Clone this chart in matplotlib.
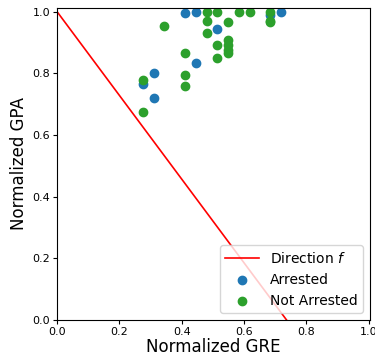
import numpy as np
import matplotlib
matplotlib.use("Agg")
import matplotlib.pyplot as plt

# decision line end points
line_x = [0.0, 0.737]
line_y = [1.0, 0.0]

arr_x = [0.412, 0.446, 0.72, 0.685, 0.515, 0.446, 0.31, 0.276, 0.31]
arr_y = [0.994, 1.0, 1.0, 0.99, 0.942, 0.834, 0.80, 0.765, 0.72]

not_x = [0.481, 0.515, 0.583, 0.618, 0.685, 0.685, 0.685, 0.481, 0.549, 0.344,
         0.481, 0.515, 0.549, 0.549, 0.549, 0.549, 0.412, 0.515, 0.412, 0.412,
         0.276, 0.276]
not_y = [1.0, 1.0, 1.0, 1.0, 1.0, 0.97, 0.965, 0.97, 0.965, 0.954,
         0.931, 0.891, 0.908, 0.891, 0.875, 0.867, 0.867, 0.85, 0.794, 0.759,
         0.778, 0.674]

fig = plt.figure(figsize=(3.75, 3.58), dpi=100)
ax = fig.add_axes([0.152, 0.106, 0.835, 0.872])
ax.plot(line_x, line_y, color="red", linewidth=1.2, label="Direction $f$")
ax.scatter(arr_x, arr_y, s=36, color="tab:blue", label="Arrested")
ax.scatter(not_x, not_y, s=36, color="tab:green", label="Not Arrested")
ax.set_xlim(0, 1.005)
ax.set_ylim(0, 1.012)
ax.set_xticks([0, 0.2, 0.4, 0.6, 0.8, 1.0])
ax.set_yticks([0, 0.2, 0.4, 0.6, 0.8, 1.0])
ax.tick_params(labelsize=8, length=3, pad=2)
ax.set_xlabel("Normalized GRE", fontsize=12, labelpad=1)
ax.set_ylabel("Normalized GPA", fontsize=12, labelpad=3)
ax.legend(loc="lower right", fontsize=10, handlelength=2.4)
fig.savefig("out.png")
